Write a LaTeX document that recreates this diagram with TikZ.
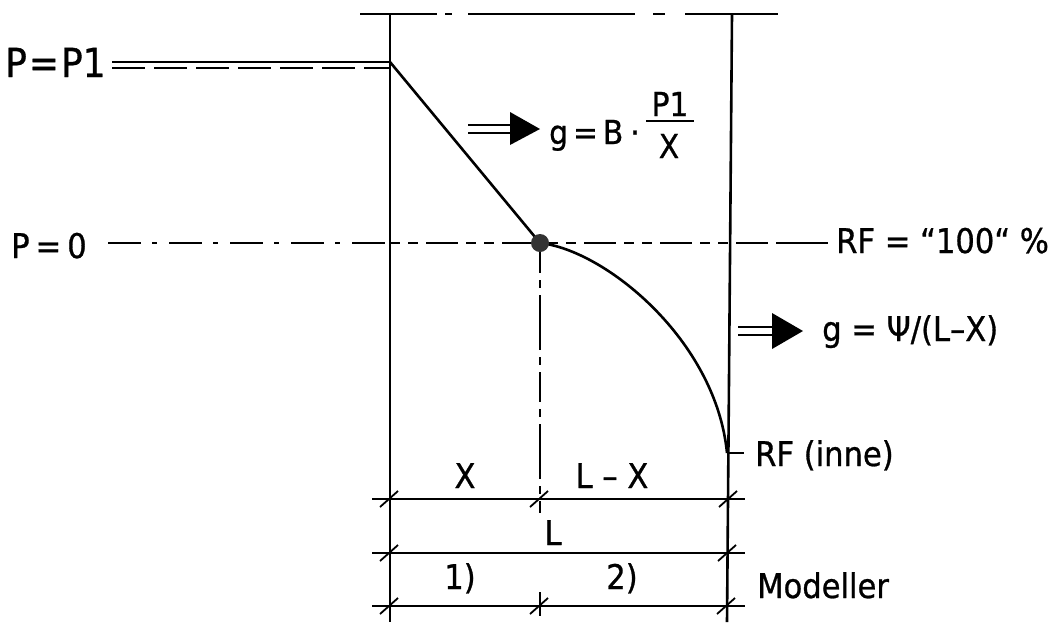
\documentclass[tikz,border=0pt]{standalone}
\usepackage{fontspec}
\setmainfont[FakeBold=0.8]{DejaVu Sans Condensed}
\begin{document}
\begin{tikzpicture}[x=1pt,y=-1pt,
  wall/.style={line width=2.6pt},
  dimline/.style={line width=1.8pt},
  tickmark/.style={line width=1.8pt},
  lbig/.style={inner sep=0pt,font=\fontsize{40}{44}\selectfont},
  lmid/.style={inner sep=0pt,font=\fontsize{34}{40}\selectfont},
  lsml/.style={inner sep=0pt,font=\fontsize{34}{40}\selectfont},
  leq/.style={inner sep=0pt,font=\fontsize{33}{38}\selectfont},
  bigarrow/.style={fill=black},
  ]
\useasboundingbox (0,0) rectangle (1059,622);

% walls
\coordinate (wl1) at (390,14);
\coordinate (wl2) at (390,622);
\coordinate (wr1) at (732,14);
\coordinate (wr2) at (727,622);
\draw[wall] (wl1) -- (wl2);
\draw[wall] (wr1) -- (wr2);

% top line
\coordinate (t1) at (360,14);
\coordinate (t2) at (778,14);
\draw[line width=2.2pt, dash pattern=on 77pt off 8pt on 7pt off 16pt on 167pt off 18pt on 12pt off 20pt on 93pt] (t1) -- (t2);

% P = P1
\node[lbig, anchor=base west] (pP1) at (5,77) {P{\kern2pt}={\kern2pt}P1};
\coordinate (a1) at (112,62);
\coordinate (a2) at (390,62);
\coordinate (b1) at (112,68);
\coordinate (b2) at (390,68);
\draw[wall] (a1) -- (a2);
\draw[line width=2.2pt, dash pattern=on 33pt off 9pt] (b1) -- (b2);

% dot
\coordinate (d) at (540,243);
\draw[wall] (a2) -- (d);

% P = 0 line
\node[lmid, anchor=base west] (pP0) at (11,258) {P{\kern6pt}={\kern6pt}0};
\coordinate (c1) at (108,243);
\coordinate (c2) at (390,243);
\coordinate (c3) at (532,243);
\coordinate (c4) at (548,243);
\coordinate (c5) at (778,243);
\coordinate (c6) at (828,243);
\draw[line width=2pt, dash pattern=on 33pt off 11pt on 5pt off 12pt] (c1) -- (c2);
\draw[line width=2pt, dash pattern=on 10pt off 8pt on 10pt off 8pt on 32pt off 8pt] (c2) -- (c3);
\draw[line width=2pt, dash pattern=on 10pt off 8pt on 10pt off 8pt on 32pt off 8pt] (c4) -- (c5);
\draw[line width=2pt] (c5) -- (c6);
\node[lsml, anchor=base west] (rf100) at (836,253) {RF = “100“ \%};

% vertical dashed
\coordinate (v2) at (540,513);
\draw[line width=2pt, dash pattern=on 30pt off 7pt on 8pt off 7pt on 55pt off 7pt on 8pt off 7pt] (d) -- (v2);

% curve
\coordinate (ce) at (727,453);
\draw[wall] (d) .. controls (605,250) and (716,340) .. (ce);
\fill[black!80] (d) circle (9pt);

% RF (inne)
\coordinate (rt) at (744,453);
\draw[line width=2pt] (ce) -- (rt);
\node[lmid, anchor=base west] (rfinne) at (755,466) {RF (inne)};

% arrow 1
\coordinate (ar1s) at (468,125);
\coordinate (ar1e) at (513,125);
\coordinate (ar1s2) at (468,133);
\coordinate (ar1e2) at (513,133);
\draw[line width=2.2pt] (ar1s) -- (ar1e);
\draw[line width=2.2pt] (ar1s2) -- (ar1e2);
\fill[bigarrow] (510,112) -- (540,129) -- (510,145) -- cycle;
\node[leq, anchor=base west] (eq1) at (549,144) {g{\kern5pt}={\kern5pt}B{\kern7pt}·};
\node[leq, anchor=base] (num) at (670,116) {P1};
\node[leq, anchor=base] (den) at (669,158) {X};
\coordinate (fb1) at (646,121);
\coordinate (fb2) at (694,121);
\draw[line width=2pt] (fb1) -- (fb2);

% arrow 2
\coordinate (ar2s) at (738,327);
\coordinate (ar2e) at (775,327);
\coordinate (ar2s2) at (738,335);
\coordinate (ar2e2) at (775,335);
\draw[line width=2.2pt] (ar2s) -- (ar2e);
\draw[line width=2.2pt] (ar2s2) -- (ar2e2);
\fill[bigarrow] (772,313) -- (803,331) -- (772,349) -- cycle;
\node[lsml, anchor=base west] (eq2) at (822,341) {g = Ψ/(L–X)};

% dimension lines
\foreach \yy/\nm in {499/one,553/two,606/three}{
  \coordinate (dl\nm) at (372,\yy);
  \coordinate (dr\nm) at (745,\yy);
  \draw[dimline] (dl\nm) -- (dr\nm);
}
\coordinate (m3a) at (540,592);
\coordinate (m3b) at (540,616);
\draw[line width=1.8pt] (m3a) -- (m3b);
\foreach \xx/\yy in {390/499,540/499,729/499,390/553,728/553,390/606,540/606,727/606}{
  \draw[tickmark] (\xx-10,\yy+8) -- (\xx+8,\yy-8);
}

% dimension labels
\node[lmid, anchor=base] (lx) at (465,488) {X};
\node[lmid, anchor=base] (llx) at (612,488) {L – X};
\node[lmid, anchor=base] (ll) at (553,545) {L};
\node[lmid, anchor=base] (l1) at (460,589) {1)};
\node[lmid, anchor=base] (l2) at (622,589) {2)};
\node[lmid, anchor=base west] (mod) at (757,598) {Modeller};
\end{tikzpicture}
\end{document}
